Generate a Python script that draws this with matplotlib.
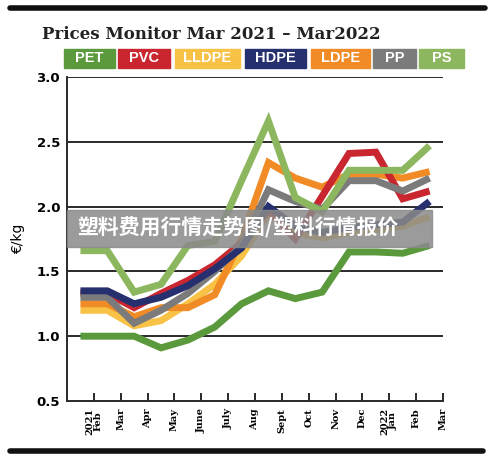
import matplotlib.pyplot as plt
from matplotlib.patches import Rectangle
from matplotlib.lines import Line2D

# tick labels on the month boundaries, prices at month midpoints
months = ['2021\nFeb', 'Mar', 'Apr', 'May', 'June', 'July', 'Aug', 'Sept',
          'Oct', 'Nov', 'Dec', '2022\nJan', 'Feb', 'Mar']
pet = [1.00, 1.00, 1.00, 0.91, 0.97, 1.07, 1.25, 1.35, 1.29, 1.34, 1.65, 1.65, 1.64, 1.70]
pvc = [1.33, 1.33, 1.22, 1.33, 1.43, 1.55, 1.72, 1.97, 1.75, 2.08, 2.41, 2.42, 2.06, 2.12]
lldpe = [1.20, 1.20, 1.08, 1.12, 1.25, 1.40, 1.62, 1.95, 1.80, 1.76, 1.80, 1.82, 1.85, 1.92]
hdpe = [1.35, 1.35, 1.25, 1.30, 1.39, 1.52, 1.68, 2.00, 1.85, 1.80, 1.84, 1.86, 1.88, 2.04]
ldpe = [1.25, 1.25, 1.15, 1.22, 1.22, 1.32, 1.75, 2.34, 2.22, 2.15, 2.25, 2.25, 2.22, 2.27]
pp = [1.30, 1.30, 1.10, 1.20, 1.33, 1.50, 1.70, 2.13, 2.04, 1.98, 2.20, 2.20, 2.12, 2.22]
ps = [1.66, 1.66, 1.34, 1.40, 1.70, 1.73, 2.20, 2.66, 2.07, 1.96, 2.28, 2.28, 2.28, 2.47]

names = ['PET', 'PVC', 'LLDPE', 'HDPE', 'LDPE', 'PP', 'PS']
colors = {'PET': '#5b9a3c', 'PVC': '#c9262f', 'LLDPE': '#f8c246', 'HDPE': '#27306e',
          'LDPE': '#f08b25', 'PP': '#7b7b7b', 'PS': '#8cb75e'}
series = {'PET': pet, 'PVC': pvc, 'LLDPE': lldpe, 'HDPE': hdpe,
          'LDPE': ldpe, 'PP': pp, 'PS': ps}
draw_order = ['PET', 'LLDPE', 'LDPE', 'PVC', 'PP', 'HDPE', 'PS']

fig = plt.figure(figsize=(5, 4.59), dpi=100)
ax = fig.add_axes([0.134, 0.1264, 0.752, 0.7058])

xs = [i - 0.5 for i in range(len(pet))]
for n in draw_order:
    ax.plot(xs, series[n], color=colors[n], lw=5, solid_joinstyle='miter',
            solid_capstyle='butt', zorder=3)

for v in [1.0, 1.5, 2.0, 2.5, 3.0]:
    ax.axhline(v, color='#2a2a2a', lw=1.4, zorder=2)

ax.set_xlim(-1, 13)
ax.set_ylim(0.5, 3.0)
ax.set_yticks([0.5, 1.0, 1.5, 2.0, 2.5, 3.0])
ax.set_yticklabels(['0.5', '1.0', '1.5', '2.0', '2.5', '3.0'],
                   family='DejaVu Sans', weight='bold', fontsize=9.5)
ax.tick_params(axis='y', length=0, pad=5)
ax.set_xticks(range(len(months)))
ax.set_xticklabels(months, rotation=90, family='DejaVu Serif', weight='bold',
                   fontsize=7, va='top', linespacing=0.9)
ax.tick_params(axis='x', direction='in', length=6, width=1.4, color='#2a2a2a', pad=5)
for s in ['top', 'right']:
    ax.spines[s].set_visible(False)
for s in ['left', 'bottom']:
    ax.spines[s].set_linewidth(1.4)
    ax.spines[s].set_color('#2a2a2a')
ax.set_ylabel('€/kg', fontsize=10, labelpad=8)

# title and colour key
fig.text(0.084, 0.924, 'Prices Monitor Mar 2021 – Mar2022', family='DejaVu Serif',
         weight='bold', fontsize=12, color='#222222', va='center')
boxes = {'PET': (64, 115), 'PVC': (118, 170), 'LLDPE': (175, 240), 'HDPE': (245, 306),
         'LDPE': (311, 370), 'PP': (373, 416), 'PS': (419, 464)}
for n in names:
    x0, x1 = boxes[n]
    fig.patches.append(Rectangle((x0 / 500, 1 - 68 / 459), (x1 - x0) / 500, 19 / 459,
                                 transform=fig.transFigure, color=colors[n]))
    fig.text((x0 + x1) / 1000, 1 - 58.5 / 459, n, color='white', weight='bold',
             fontsize=10.5, ha='center', va='center', family='Liberation Sans')

# heavy rules top and bottom
fig.lines.append(Line2D([0.02, 0.97], [1 - 8 / 459] * 2, color='#111111', lw=4,
                        transform=fig.transFigure, solid_capstyle='round'))
fig.lines.append(Line2D([0.02, 0.965], [1 - 451 / 459] * 2, color='#111111', lw=4,
                        transform=fig.transFigure, solid_capstyle='round'))

# watermark banner
fig.patches.append(Rectangle((67 / 500, 1 - 247 / 459), 365 / 500, 37 / 459,
                             transform=fig.transFigure, color='#8a8a8a', alpha=0.85, zorder=5))
fig.text(77 / 500, 1 - 228 / 459, '塑料费用行情走势图/塑料行情报价', color='white',
         weight='bold', fontsize=15, va='center', zorder=6,
         family=['Noto Sans CJK SC', 'DejaVu Sans'])

fig.savefig('out.png', dpi=100)
